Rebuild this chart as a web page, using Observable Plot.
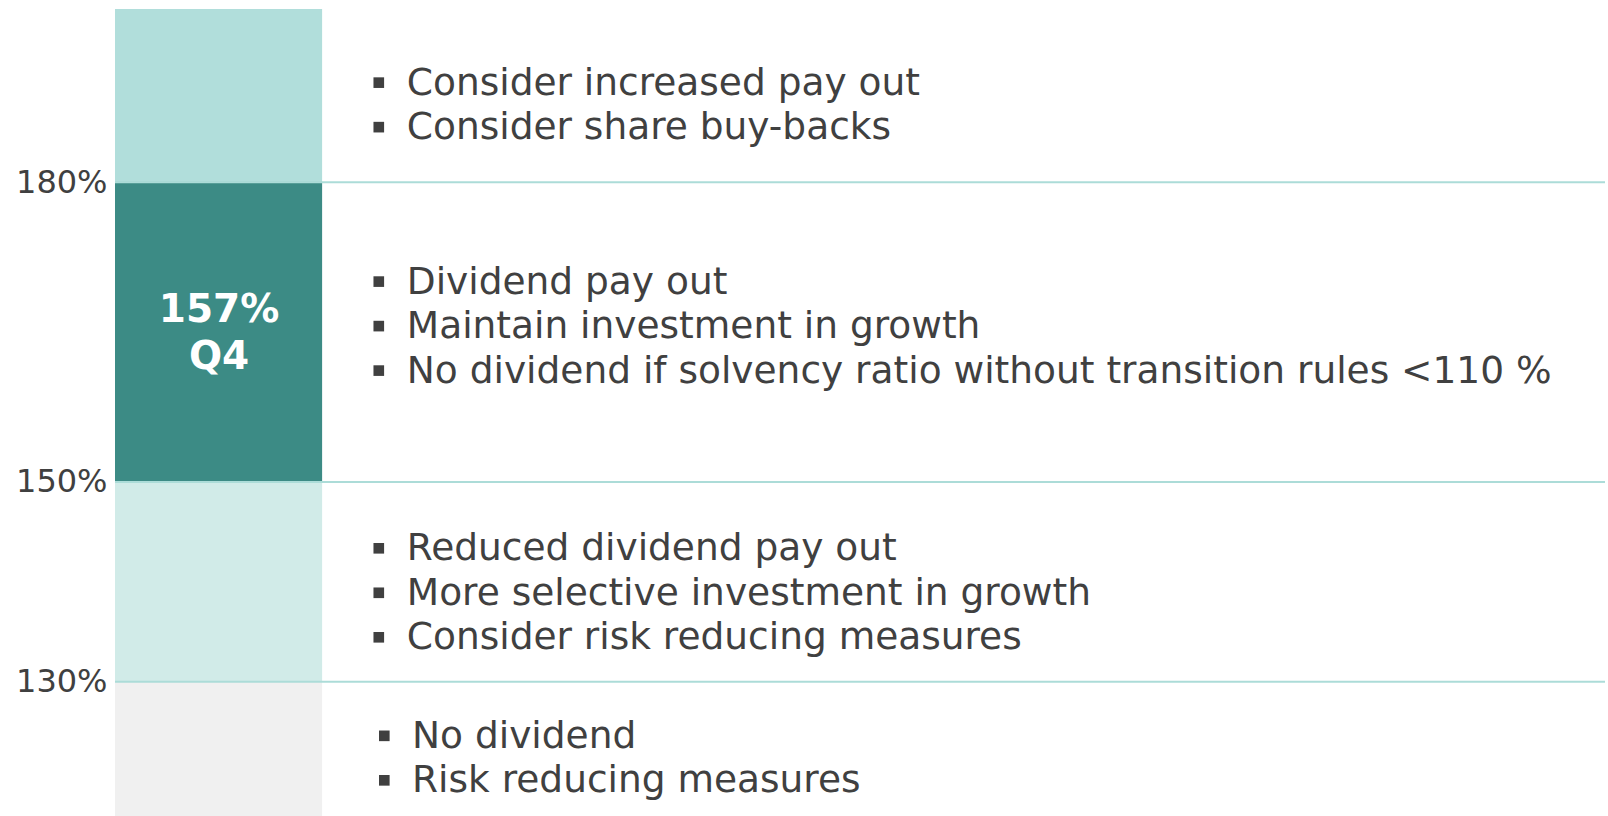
<!DOCTYPE html>
<html>
<head>
<meta charset="utf-8">
<script src="https://cdn.jsdelivr.net/npm/d3@7"></script>
<script src="https://cdn.jsdelivr.net/npm/@observablehq/plot@0.6"></script>
<style>
  html, body { margin: 0; padding: 0; background: #ffffff; }
  svg { display: block; }
</style>
</head>
<body>
<script>
// ---- Data ----
const bandNames = ["above180", "150to180", "130to150", "below130"];
const bandLow = [180, 150, 130, 116.5];
const bandHigh = [197.3, 180, 150, 130];
const bandColors = ["#b1dedb", "#3c8b85", "#d1ebe8", "#f0f0f0"];
const thresholds = [180, 150, 130];
const notes = [
  ["Consider increased pay out", "Consider share buy-backs"],
  ["Dividend pay out", "Maintain investment in growth", "No dividend if solvency ratio without transition rules <110 %"],
  ["Reduced dividend pay out", "More selective investment in growth", "Consider risk reducing measures"],
  ["No dividend", "Risk reducing measures"]
];
const currentRatio = 157;
const currentPeriod = "Q4";

// ---- Layout constants (style only) ----
const W = 1608, H = 816, MT = 9, MB = 0;
const barEnd = 0.139;           // bar right edge as fraction of x range
const lineH = 44.5;             // text line height in px
const groupShift = [9, -6, 11, 9];
const bulletX = [0.1767, 0.1767, 0.1767, 0.1804];
const textX = [0.1955, 0.1955, 0.1955, 0.1990];
const pxPerUnit = (H - MT - MB) / (bandHigh[0] - bandLow[3]);

const bands = bandNames.map((n, i) => ({name: n, lo: bandLow[i], hi: bandHigh[i], color: bandColors[i]}));
const lines = [];
notes.forEach((arr, g) => {
  const mid = (bandLow[g] + bandHigh[g]) / 2;
  arr.forEach((t, i) => {
    const offPx = (i - (arr.length - 1) / 2) * lineH + groupShift[g];
    lines.push({text: t, y: mid - offPx / pxPerUnit, bx: bulletX[g], tx: textX[g]});
  });
});
const currentBand = bands.find(b => currentRatio >= b.lo && currentRatio < b.hi);
const labelMid = (currentBand.lo + currentBand.hi) / 2;
const labelLines = [
  {text: currentRatio + "%", y: labelMid + 23 / pxPerUnit},
  {text: currentPeriod, y: labelMid - 24 / pxPerUnit}
];

const chart = Plot.plot({
  width: W,
  height: H,
  marginTop: MT,
  marginBottom: MB,
  marginLeft: 115,
  marginRight: 3,
  style: {fontFamily: "DejaVu Sans, Verdana, sans-serif", background: "#ffffff"},
  x: {domain: [0, 1], axis: null},
  y: {domain: [bandLow[3], bandHigh[0]], axis: null},
  marks: [
    Plot.rect(bands, {x1: 0, x2: barEnd, y1: "lo", y2: "hi", fill: "color"}),
    Plot.ruleY(thresholds, {x1: 0, x2: 1, stroke: "#acdcd8", strokeWidth: 2}),
    Plot.axisY({
      ticks: thresholds,
      tickFormat: d => d + "%",
      tickSize: 0,
      tickPadding: 8,
      fontSize: 32,
      fill: "#404040",
      label: null
    }),
    Plot.dot(lines, {x: "bx", y: "y", symbol: "square", r: 6, fill: "#404040", stroke: null}),
    Plot.text(lines, {x: "tx", y: "y", text: "text", textAnchor: "start", fontSize: 37.5, fill: "#404040"}),
    Plot.text(labelLines, {x: barEnd / 2, y: "y", text: "text", fontSize: 39, fontWeight: "bold", fill: "#ffffff"})
  ]
});
document.body.append(chart);
</script>
</body>
</html>
